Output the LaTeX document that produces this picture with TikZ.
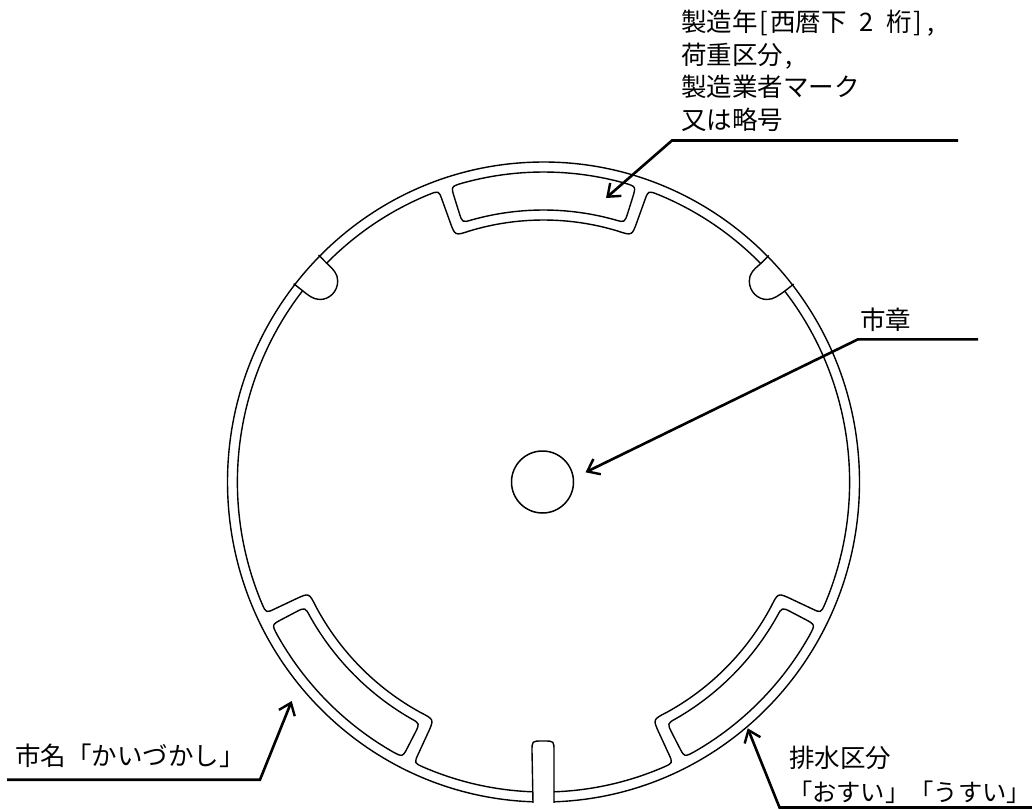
\documentclass[tikz,border=0pt]{standalone}
\usepackage{fontspec}
\setmainfont{Noto Sans CJK JP}
\usetikzlibrary{arrows.meta}
\newcommand{\hw}[1]{\makebox[.5em]{#1}}
\newcommand{\ringarc}[2]{(#1:310) arc[start angle=#1,end angle=#2,radius=310]}
\newcommand{\framearc}[1]{
  ({#1-21.8}:310) .. controls ({#1-20}:310) .. ({#1-20}:300) -- ({#1-20}:277)
  .. controls ({#1-20}:262) .. ({#1-16.7}:262) arc[start angle=#1-16.7,end angle=#1+16.7,radius=262]
  .. controls ({#1+20}:262) .. ({#1+20}:277) -- ({#1+20}:300)
  .. controls ({#1+20}:310) .. ({#1+21.8}:310)}
\newcommand{\pocket}[1]{
  ({#1-15.4}:310) .. controls ({#1-17.6}:310) .. ({#1-17.6}:298) -- ({#1-17.6}:283)
  .. controls ({#1-17.6}:272) .. ({#1-15.4}:272) arc[start angle=#1-15.4,end angle=#1+15.4,radius=272]
  .. controls ({#1+17.6}:272) .. ({#1+17.6}:283) -- ({#1+17.6}:298)
  .. controls ({#1+17.6}:310) .. ({#1+15.4}:310) arc[start angle=#1+15.4,end angle=#1-15.4,radius=310] -- cycle}
\tikzset{
  outline/.style={draw=black,line width=1.4pt,line join=round},
  leader/.style={draw=black,line width=2.6pt,line join=miter,-{Straight Barb[length=11pt,width=17pt,line width=2.4pt]}},
  lbl/.style={inner sep=0pt,outer sep=0pt,anchor=north west,align=left,font=\fontsize{25.5}{32.5}\selectfont}
}
\begin{document}
\begin{tikzpicture}[x=1pt,y=-1pt]
\useasboundingbox (0,0) rectangle (1032,810);
\begin{scope}[shift={(543.5,482)},xscale=.9875,yscale=-1]
  \draw[outline] (-88.1:320) arc[start angle=-88.1,end angle=268.1,radius=320];
  \draw[outline] \ringarc{-88.04}{-66.8} \ringarc{-23.2}{38} \ringarc{44.8}{68.2}
                 \ringarc{111.8}{135.1} \ringarc{141.9}{203.2} \ringarc{246.8}{268.04};
  \draw[outline] \framearc{90};
  \draw[outline] \framearc{225};
  \draw[outline] \framearc{315};
  \draw[outline] \pocket{90};
  \draw[outline] \pocket{225};
  \draw[outline] \pocket{315};
  \coordinate (lnA) at (135.1:310); \coordinate (lnB) at (135.1:321.5);
  \coordinate (lnC) at (141.9:310); \coordinate (lnD) at (141.9:321.5);
  \coordinate (rnA) at (44.8:310);  \coordinate (rnB) at (44.8:321.5);
  \coordinate (rnC) at (38:310);    \coordinate (rnD) at (38:321.5);
  \coordinate (slL) at (268.1:321); \coordinate (slR) at (-88.1:321);
\end{scope}
% small lugs on the ring
\draw[outline] (lnB) -- (lnA) .. controls (334,270) and (337.7,274) .. (337.7,281)
  .. controls (337.7,292) and (329,299.5) .. (320,299.5)
  .. controls (313,299.5) and (308,295) .. (lnC) -- (lnD);
\draw[outline] (rnB) -- (rnA) .. controls (753,270) and (749.3,274) .. (749.3,281)
  .. controls (749.3,292) and (758,299.5) .. (767,299.5)
  .. controls (774,299.5) and (779,295) .. (rnC) -- (rnD);
% bottom slot
\draw[outline] (slL) -- (532,751) .. controls (532,741) .. (542,741) -- (544,741)
  .. controls (554,741) .. (554,751) -- (slR);
% centre circle
\node[circle,draw=black,line width=1.5pt,minimum size=62pt,inner sep=0pt] (seal) at (542.5,482) {};
% labels
\node[lbl] (lmaker) at (681,10) {製造年\hw{[}西暦下\hw{ }2\hw{ }桁\hw{]}\hw{,}\\荷重区分\hw{,}\\製造業者マーク\\又は略号};
\node[lbl] (lcity) at (860,308) {市章};
\node[lbl] (lname) at (15,744) {市名「かいづかし」};
\node[lbl,font=\fontsize{25.5}{34.5}\selectfont] (ldrain) at (788,746) {\hspace{1pt}排水区分\\\fontsize{24.3}{34.5}\selectfont「おすい」「うすい」};
% leaders
\coordinate (a1s) at (958,140.5); \coordinate (a1k) at (672,140.5); \coordinate (a1t) at (606,198);
\coordinate (a2s) at (978,339.3); \coordinate (a2k) at (858,339.3); \coordinate (a2t) at (585.5,472.3);
\coordinate (a3s) at (7,779.7);   \coordinate (a3k) at (260,779.7); \coordinate (a3t) at (291.7,701);
\coordinate (a4s) at (1032,807.5);\coordinate (a4k) at (779.5,807.5); \coordinate (a4t) at (747.7,728.3);
\draw[leader] (a1s) -- (a1k) -- (a1t);
\draw[leader] (a2s) -- (a2k) -- (a2t);
\draw[leader] (a3s) -- (a3k) -- (a3t);
\draw[leader] (a4s) -- (a4k) -- (a4t);
\end{tikzpicture}
\end{document}
